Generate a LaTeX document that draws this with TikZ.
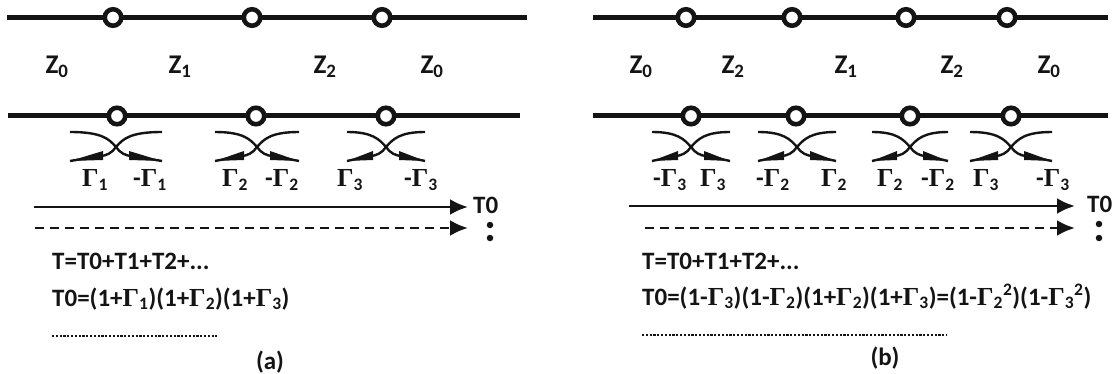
\documentclass[tikz,border=0pt]{standalone}
\usepackage{fontspec}
\setmainfont{Carlito}[BoldFont={Carlito Bold}]
\newfontfamily\gfont{Liberation Serif}
\usetikzlibrary{arrows.meta,calc}
\definecolor{ink}{RGB}{20,20,20}
\newcommand{\Gm}{{\gfont\fontsize{26}{26}\selectfont\textbf{Γ}}}
\newcommand{\Gs}[1]{\Gm\textsubscript{#1}}
\newcommand{\Gt}[1]{{\gfont\fontsize{26}{26}\selectfont Γ}\textsubscript{#1}}
\newcommand{\Xing}[3]{% name, centre x, half width
  \coordinate (#1c) at (#2,147);
  \coordinate (#1tl) at (#2-#3,132);
  \coordinate (#1tr) at (#2+#3,132);
  \coordinate (#1bl) at (#2-#3,161);
  \coordinate (#1br) at (#2+#3,161);
  \draw[curve] (#1tl) .. controls ($(#1c)+(-14,-15)$) and ($(#1c)+(-7,-8)$) .. (#1c)
     .. controls ($(#1c)+(4,6)$) and ($(#1c)+(10,9)$) .. ($(#1c)+(16,9)$) -- (#1br);
  \draw[curve] (#1tr) .. controls ($(#1c)+(14,-15)$) and ($(#1c)+(7,-8)$) .. (#1c)
     .. controls ($(#1c)+(-4,6)$) and ($(#1c)+(-10,9)$) .. ($(#1c)+(-16,9)$) -- (#1bl);
  \path[fill=ink] (#1br) -- ($(#1c)+(13,4)$) -- ($(#1c)+(13,13)$) -- cycle;
  \path[fill=ink] (#1bl) -- ($(#1c)+(-13,4)$) -- ($(#1c)+(-13,13)$) -- cycle;
}
\tikzset{
  x=1pt,y=-1pt,
  tline/.style={line width=5pt,draw=ink},
  port/.style={circle,draw=ink,fill=white,line width=4.6pt,minimum size=16.5pt,inner sep=0pt},
  curve/.style={line width=2.4pt,draw=ink},
  flow/.style={line width=2.8pt,draw=ink,-{Latex[length=18pt,width=16pt]}},
  dflow/.style={flow,dash pattern=on 9pt off 6pt},
  lbl/.style={font=\fontsize{25}{28}\selectfont\bfseries,text=ink,inner sep=0pt},
  zlbl/.style={lbl,font=\fontsize{27}{28}\selectfont\bfseries,anchor=base},
  glbl/.style={lbl,anchor=base},
  eq/.style={font=\fontsize{25}{28}\selectfont\bfseries,text=ink,inner sep=0pt,anchor=base west},
  dot/.style={circle,fill=ink,minimum size=6.5pt,inner sep=0pt},
  rleader/.style={line width=2.4pt,draw=ink,dash pattern=on 2.2pt off 1.6pt},
}
\begin{document}
\begin{tikzpicture}
\useasboundingbox (0,0) rectangle (1113,374);
% ---------- (a)
\coordinate (a1s) at (7,17.5); \coordinate (a1e) at (527,17.5);
\coordinate (a2s) at (8,116); \coordinate (a2e) at (520,116);
\draw[tline] (a1s) -- (a1e); \draw[tline] (a2s) -- (a2e);
\foreach \n/\x in {p/113,q/252,r/382} \node[port] (a1\n) at (\x,17.5) {};
\foreach \n/\x in {p/117,q/256,r/386} \node[port] (a2\n) at (\x,116) {};
\node[zlbl] (az1) at (57,74) {Z\textsubscript{0}};
\node[zlbl] (az2) at (180,74) {Z\textsubscript{1}};
\node[zlbl] (az3) at (325,74) {Z\textsubscript{2}};
\node[zlbl] (az4) at (432,74) {Z\textsubscript{0}};
\Xing{ax1}{116}{46}
\Xing{ax2}{257}{42}
\Xing{ax3}{386}{39}
\node[glbl] (ag1) at (95,187) {\Gs{1}};
\node[glbl] (ag2) at (150,187) {-\Gs{1}};
\node[glbl] (ag3) at (235,187) {\Gs{2}};
\node[glbl] (ag4) at (282,187) {-\Gs{2}};
\node[glbl] (ag5) at (350,187) {\Gs{3}};
\node[glbl] (ag6) at (421,187) {-\Gs{3}};
\coordinate (af1) at (34,207);
\node[lbl,anchor=west] (at0) at (473,205) {T0};
\coordinate (af1e) at (468,207);
\draw[flow] (af1) -- (af1e);
\coordinate (af2) at (35,228);
\coordinate (af2e) at (468,228);
\node[dot] (ac1) at (490,225) {};
\node[dot] (ac2) at (490,238) {};
\draw[dflow] (af2) -- (af2e);
\node[eq] (ae1) at (52,269) {T=T0+T1+T2+...};
\node[eq] (ae2) at (52,306) {T0=(1+\Gt{1})(1+\Gt{2})(1+\Gt{3})};
\coordinate (ad1) at (52,336); \coordinate (ad2) at (217,336);
\draw[rleader] (ad1) -- (ad2);
\node[lbl] (acap) at (270,362) {(a)};
% ---------- (b)
\coordinate (b1s) at (593,17.5); \coordinate (b1e) at (1108,17.5);
\coordinate (b2s) at (593,116); \coordinate (b2e) at (1108,116);
\draw[tline] (b1s) -- (b1e); \draw[tline] (b2s) -- (b2e);
\foreach \n/\x in {p/686,q/792,r/906,s/1007} \node[port] (b1\n) at (\x,17.5) {};
\foreach \n/\x in {p/691,q/796,r/910,s/1011} \node[port] (b2\n) at (\x,116) {};
\node[zlbl] (bz1) at (641,74) {Z\textsubscript{0}};
\node[zlbl] (bz2) at (733,74) {Z\textsubscript{2}};
\node[zlbl] (bz3) at (846,74) {Z\textsubscript{1}};
\node[zlbl] (bz4) at (952,74) {Z\textsubscript{2}};
\node[zlbl] (bz5) at (1049,74) {Z\textsubscript{0}};
\Xing{bx1}{691}{39}
\Xing{bx2}{797}{39}
\Xing{bx3}{910}{38}
\Xing{bx4}{1011}{41}
\node[glbl] (bg1) at (670,187) {-\Gs{3}};
\node[glbl] (bg2) at (713,187) {\Gs{3}};
\node[glbl] (bg3) at (773,187) {-\Gs{2}};
\node[glbl] (bg4) at (834,187) {\Gs{2}};
\node[glbl] (bg5) at (890,187) {\Gs{2}};
\node[glbl] (bg6) at (938,187) {-\Gs{2}};
\node[glbl] (bg7) at (986,187) {\Gs{3}};
\node[glbl] (bg8) at (1053,187) {-\Gs{3}};
\coordinate (bf1) at (629,206);
\coordinate (bf1e) at (1075,206);
\node[lbl,anchor=west] (bt0) at (1087,204) {T0};
\draw[flow] (bf1) -- (bf1e);
\coordinate (bf2) at (645,228);
\node[dot] (bc1) at (1099,224) {};
\node[dot] (bc2) at (1099,238) {};
\coordinate (bf2e) at (1075,228);
\draw[dflow] (bf2) -- (bf2e);
\node[eq] (be1) at (642,269) {T=T0+T1+T2+...};
\node[eq] (be2) at (642,305) {T0=(1-\Gt{3})(1-\Gt{2})(1+\Gt{2})(1+\Gt{3})=(1-\Gt{2}\textsuperscript{2})(1-\Gt{3}\textsuperscript{2})};
\coordinate (bd1) at (642,335); \coordinate (bd2) at (947,335);
\draw[rleader] (bd1) -- (bd2);
\node[lbl] (bcap) at (885,358) {(b)};
\end{tikzpicture}
\end{document}
